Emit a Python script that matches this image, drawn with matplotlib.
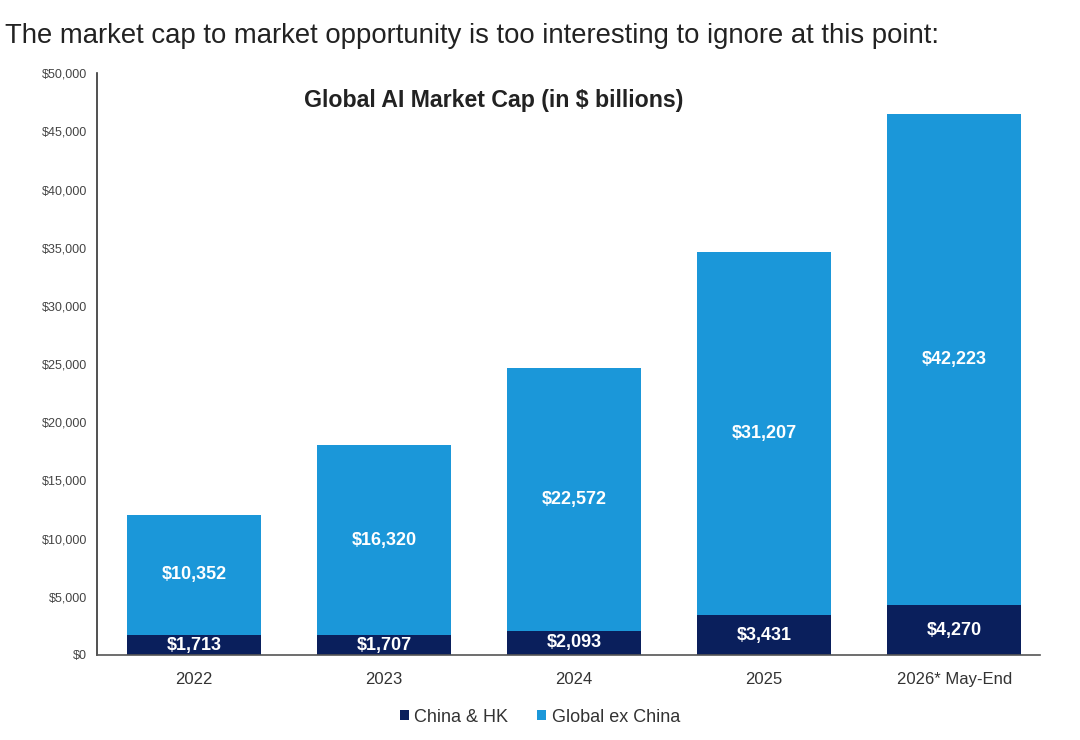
import matplotlib
matplotlib.use("Agg")
import matplotlib.pyplot as plt
from matplotlib.ticker import FuncFormatter
import numpy as np

plt.rcParams['font.family'] = ['Liberation Sans', 'DejaVu Sans']

categories = ["2022", "2023", "2024", "2025", "2026* May-End"]
china_hk = [1713, 1707, 2093, 3431, 4270]
global_ex_china = [10352, 16320, 22572, 31207, 42223]
series_names = ["China & HK", "Global ex China"]
yticks = list(range(0, 50001, 5000))

dark = "#0a1f5c"
light = "#1b97d9"

fig = plt.figure(figsize=(10.8, 7.4), dpi=100)
ax = fig.add_axes([0.0898, 0.1149, 0.873, 0.786])

x = np.arange(len(categories))
w = 0.705
b1 = ax.bar(x, china_hk, width=w, color=dark, label=series_names[0])
b2 = ax.bar(x, global_ex_china, width=w, bottom=china_hk, color=light, label=series_names[1])

for xi, c, g in zip(x, china_hk, global_ex_china):
    ax.text(xi, c / 2, f"${c:,}", ha="center", va="center", color="white",
            fontsize=13, fontweight="bold")
    ax.text(xi, c + g / 2, f"${g:,}", ha="center", va="center", color="white",
            fontsize=13, fontweight="bold")

ax.set_xlim(-0.51, 4.45)
ax.set_ylim(0, 50000)
ax.set_yticks(yticks)
ax.yaxis.set_major_formatter(FuncFormatter(lambda v, p: f"${int(v):,}"))
ax.set_xticks(x)
ax.set_xticklabels(categories)
ax.tick_params(axis="y", length=0, labelsize=9, labelcolor="#444444", pad=7)
ax.tick_params(axis="x", length=0, labelsize=12, labelcolor="#333333", pad=12)
for s in ["top", "right"]:
    ax.spines[s].set_visible(False)
ax.spines["left"].set_color("#333333")
ax.spines["bottom"].set_color("#555555")
ax.spines["left"].set_linewidth(1.2)
ax.spines["bottom"].set_linewidth(1.2)

ax.text(0.421, 0.953, "Global AI Market Cap (in $ billions)", transform=ax.transAxes,
        ha="center", va="center", fontsize=16.7, fontweight="bold", color="#222222")

fig.text(0.005, 0.952, "The market cap to market opportunity is too interesting to ignore at this point:",
         ha="left", va="center", fontsize=19.8, color="#222222")

leg = fig.legend(handles=[b1, b2], loc="center", bbox_to_anchor=(0.5, 0.031), ncol=2,
                 frameon=False, fontsize=13, handlelength=0.5, handleheight=0.5,
                 handletextpad=0.3, columnspacing=1.6)
for t in leg.get_texts():
    t.set_color("#333333")

fig.savefig("out.png", dpi=100)
